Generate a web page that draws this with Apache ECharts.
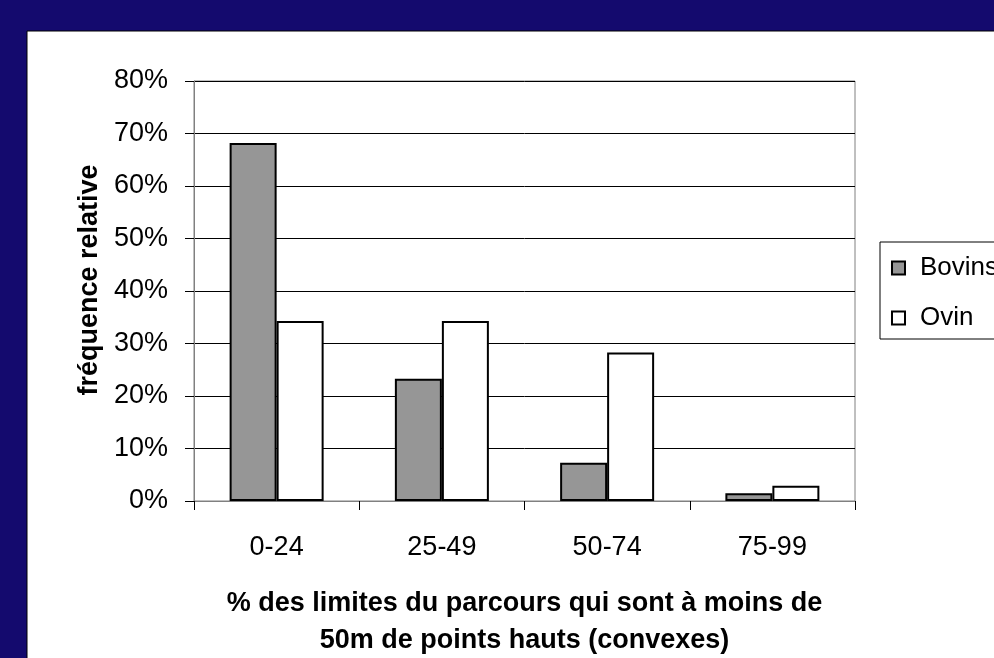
<!DOCTYPE html>
<html style="height: 100%">
<head>
<meta charset="utf-8">
<script src="https://cdn.jsdelivr.net/npm/echarts@6/dist/echarts.min.js"></script>
</head>
<body style="height: 100%; margin: 0">
<div id="container" style="width: 994px; height: 658px"></div>
<script type="text/javascript">
var categories = ['0-24', '25-49', '50-74', '75-99'];
var bovins = [68.2, 23.3, 7.3, 1.5];
var ovin = [34.3, 34.3, 28.3, 2.9];
var seriesNames = ['Bovins', 'Ovin'];

var dom = document.getElementById('container');
var myChart = echarts.init(dom);
var font = 'Liberation Sans, Arial, sans-serif';

var option = {
	backgroundColor: '#140a6e',
	animation: false,
	textStyle: { fontFamily: font },
	graphic: [{
		type: 'rect',
		z: -10,
		shape: { x: 27, y: 31, width: 980, height: 640 },
		style: { fill: '#ffffff', stroke: '#000', lineWidth: 1 }
	}],
	legend: {
		orient: 'vertical',
		left: 880,
		top: 242,
		padding: [13, 30, 8, 11],
		itemGap: 24,
		itemWidth: 13,
		itemHeight: 13,
		borderColor: '#000',
		borderWidth: 1,
		backgroundColor: '#fff',
		icon: 'rect',
		textStyle: { fontSize: 26, color: '#000', fontFamily: font, padding: [0, 0, 0, 10] },
		data: seriesNames
	},
	grid: {
		left: 194,
		right: 139,
		top: 81,
		bottom: 157,
		outerBoundsMode: 'none',
		show: true,
		borderColor: '#808080',
		borderWidth: 1
	},
	xAxis: {
		type: 'category',
		data: categories,
		name: '% des limites du parcours qui sont à moins de\n50m de points hauts (convexes)',
		nameLocation: 'middle',
		nameGap: 84,
		nameTextStyle: { fontSize: 27, fontWeight: 'bold', color: '#000', lineHeight: 37, fontFamily: font },
		axisLine: { lineStyle: { color: '#808080', width: 1 } },
		axisTick: { show: true, length: 9, lineStyle: { color: '#000' } },
		axisLabel: { fontSize: 27, color: '#000', margin: 33 }
	},
	yAxis: {
		type: 'value',
		min: 0,
		max: 80,
		interval: 10,
		name: 'fréquence relative',
		nameLocation: 'middle',
		nameGap: 90,
		nameTextStyle: { fontSize: 27, fontWeight: 'bold', color: '#000', fontFamily: font, padding: [0, 0, 0, 22] },
		axisLine: { show: true, lineStyle: { color: '#808080', width: 1 } },
		axisTick: { show: true, length: 9, lineStyle: { color: '#000' } },
		axisLabel: { fontSize: 27, color: '#000', margin: 26, formatter: '{value}%' },
		splitLine: { lineStyle: { color: '#000', width: 1 } }
	},
	series: [{
		name: seriesNames[0],
		type: 'bar',
		data: bovins,
		barWidth: 47,
		barGap: '0%',
		itemStyle: { color: '#969696', borderColor: '#000', borderWidth: 2 }
	}, {
		name: seriesNames[1],
		type: 'bar',
		data: ovin,
		barWidth: 47,
		barGap: '0%',
		itemStyle: { color: '#ffffff', borderColor: '#000', borderWidth: 2 }
	}]
};
myChart.setOption(option);
</script>
</body>
</html>
